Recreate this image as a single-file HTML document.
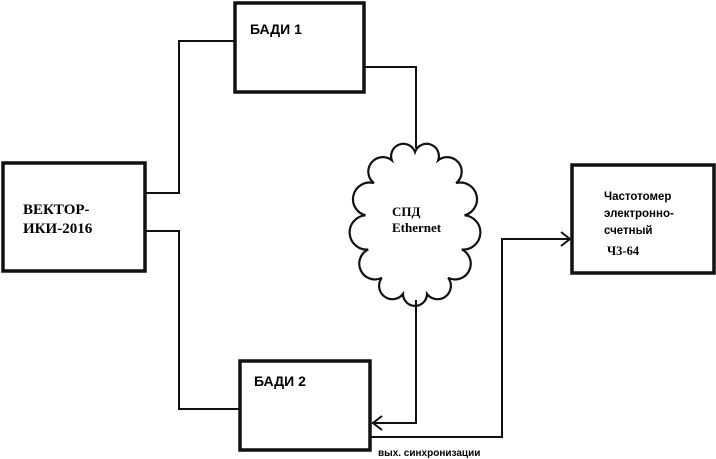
<!DOCTYPE html>
<html><head><meta charset="utf-8"><style>
html,body{margin:0;padding:0;background:#fff;}
svg{display:block}
.s{font-family:"Liberation Sans",sans-serif;font-weight:bold}
.r{font-family:"Liberation Serif",serif;font-weight:bold}
</style></head><body>
<svg width="716" height="459" viewBox="0 0 716 459" xmlns="http://www.w3.org/2000/svg">
<rect width="716" height="459" fill="#fff"/>
<g fill="none" stroke="#111" stroke-width="3.5">
<rect x="235" y="3" width="129" height="89"/>
<rect x="3" y="163" width="142" height="108"/>
<rect x="572" y="165" width="142" height="108"/>
<rect x="240" y="361" width="130" height="89"/>
</g>
<g fill="none" stroke="#111" stroke-width="2">
<polyline points="145,193 179,193 179,41 235,41"/>
<polyline points="145,231 179,231 179,409 240,409"/>
<polyline points="364,67 416,67 416,148"/>
<polyline points="416,300 416,423 372,423"/>
<polyline points="382,416 373,423 382,430"/>
<polyline points="370,437 502,437 502,239 570,239"/>
<polyline points="561,232 570,239 561,246"/>
<path id="cloud" stroke-width="2.2"/>
</g>
<text class="s" x="250" y="34" font-size="14">БАДИ 1</text>
<text class="s" x="254" y="386" font-size="14">БАДИ 2</text>
<text class="r" x="23" y="214" font-size="15">ВЕКТОР-</text>
<text class="r" x="23" y="233" font-size="15">ИКИ-2016</text>
<text class="r" x="392" y="216" font-size="13">СПД</text>
<text class="r" x="392" y="232" font-size="13">Ethernet</text>
<text class="s" x="604" y="200" font-size="11.5">Частотомер</text>
<text class="s" x="604" y="217" font-size="11.5">электронно-</text>
<text class="s" x="604" y="234" font-size="11.5">счетный</text>
<text class="r" x="607" y="255" font-size="12.5">Ч3-64</text>
<text class="s" x="378" y="456" font-size="10">вых. синхронизации</text>
</svg>
<script>
(function(){
var cx=415,cy=224,rx=50,ry=72,n=13,d="";
for(var i=0;i<=n;i++){
 var a=-Math.PI/2+i*2*Math.PI/n;
 var x=cx+rx*Math.cos(a),y=cy+ry*Math.sin(a);
 if(i==0){d+="M"+x.toFixed(1)+","+y.toFixed(1);}
 else{d+=" A11,11 0 0,1 "+x.toFixed(1)+","+y.toFixed(1);}
}
document.getElementById("cloud").setAttribute("d",d+"Z");
})();
</script>
</body></html>
